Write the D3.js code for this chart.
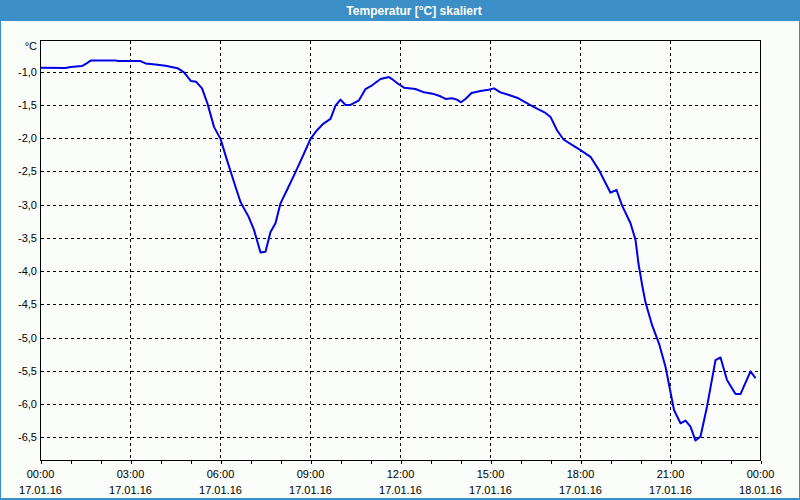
<html>
  <head>
    <meta charset="utf-8">
    <title>Temperatur [°C] skaliert</title>
    <style>
      body {
        margin: 0;
        background: #3c8fc6;
      }
      svg text {
        font-family: "Liberation Sans", Arial, sans-serif;
        font-size: 11px;
        fill: #000;
      }
      .grid line {
        stroke: #000;
        stroke-dasharray: 3,3;
        shape-rendering: crispEdges;
      }
    </style>
    <script src="https://d3js.org/d3.v7.min.js"></script>
  </head>
  <body>
    <svg id="chart"></svg>
    <script>
      let times = [
        '00:00', '00:50', '01:00', '01:23', '01:33', '01:41', '02:30', '02:36', '03:20', '03:30',
        '03:50', '04:10', '04:34', '04:47', '05:01', '05:11', '05:23', '05:34', '05:47', '06:00',
        '06:13', '06:30', '06:40', '06:56', '07:07', '07:20', '07:30', '07:40', '07:50', '08:00',
        '08:13', '08:30', '08:47', '09:00', '09:13', '09:26', '09:40', '09:50', '10:00', '10:10',
        '10:20', '10:37', '10:50', '11:04', '11:20', '11:37', '11:43', '11:53', '12:07', '12:30',
        '12:47', '13:04', '13:20', '13:30', '13:43', '13:53', '14:01', '14:10', '14:22', '14:40',
        '14:56', '15:07', '15:20', '15:37', '15:56', '16:17', '16:34', '16:50', '17:00', '17:13',
        '17:26', '17:47', '18:00', '18:20', '18:37', '19:00', '19:12', '19:23', '19:40', '19:50',
        '19:56', '20:04', '20:10', '20:23', '20:37', '20:50', '21:07', '21:20', '21:30', '21:40',
        '21:50', '22:00', '22:13', '22:30', '22:40', '22:53', '23:10', '23:20', '23:40', '23:50'
      ];
      let temps = [
        -0.94, -0.945, -0.93, -0.915, -0.87, -0.83, -0.83, -0.84, -0.84, -0.875,
        -0.89, -0.91, -0.946, -1.01, -1.14, -1.15, -1.25, -1.48, -1.83, -2.01,
        -2.33, -2.73, -2.96, -3.18, -3.38, -3.72, -3.71, -3.41, -3.28, -2.98,
        -2.78, -2.51, -2.23, -2.01, -1.88, -1.78, -1.71, -1.51, -1.42, -1.50,
        -1.50, -1.43, -1.26, -1.20, -1.11, -1.08, -1.11, -1.17, -1.24, -1.26,
        -1.31, -1.33, -1.37, -1.41, -1.40, -1.42, -1.46, -1.41, -1.32, -1.29,
        -1.27, -1.25, -1.31, -1.35, -1.40, -1.49, -1.56, -1.62, -1.68, -1.88,
        -2.02, -2.12, -2.18, -2.28, -2.48, -2.82, -2.78, -3.01, -3.28, -3.53,
        -3.89, -4.24, -4.47, -4.81, -5.09, -5.44, -6.09, -6.29, -6.25, -6.34,
        -6.55, -6.49, -6.04, -5.34, -5.30, -5.64, -5.85, -5.85, -5.51, -5.61
      ];
      let yTicks = [-1, -1.5, -2, -2.5, -3, -3.5, -4, -4.5, -5, -5.5, -6, -6.5];
      let dayStart = '2016-01-17 00:00';
      let dayEnd = '2016-01-18 00:00';
      let title = 'Temperatur [°C] skaliert';
      let unit = '°C';

      let width = 800;
      let height = 500;
      let titleHeight = 21;
      let plotLeft = 40.5;
      let plotRight = 760.5;
      let plotTop = 40.5;
      let plotBottom = 460.5;

      let parseTime = d3.timeParse('%Y-%m-%d %H:%M');
      let data = times.map((t, i) => ({ date: parseTime('2016-01-17 ' + t), value: temps[i] }));

      let svg = d3.select('#chart')
        .attr('width', width)
        .attr('height', height)
        .style('display', 'block');

      // window frame: blue title bar and thin blue border around a pale panel
      svg.append('rect')
        .attr('width', width).attr('height', height)
        .attr('fill', '#3c8fc6');
      svg.append('rect')
        .attr('x', 1).attr('y', titleHeight)
        .attr('width', width - 2).attr('height', height - titleHeight - 2)
        .attr('fill', '#fafdfa');
      svg.append('text')
        .attr('x', 414).attr('y', 14.5)
        .attr('text-anchor', 'middle')
        .style('font-weight', 'bold')
        .style('font-size', '12px')
        .style('fill', '#fff')
        .text(title);

      let x = d3.scaleTime()
        .domain([parseTime(dayStart), parseTime(dayEnd)])
        .range([plotLeft, plotRight]);
      let y = d3.scaleLinear()
        .domain([-6.85, -0.53])
        .range([plotBottom, plotTop]);

      // horizontal grid, one dashed line per y tick
      svg.append('g')
        .attr('class', 'grid')
        .selectAll('line')
        .data(yTicks)
        .join('line')
        .attr('x1', plotLeft).attr('x2', plotRight)
        .attr('y1', d => Math.round(y(d)) + 0.5)
        .attr('y2', d => Math.round(y(d)) + 0.5);

      // vertical grid every 3 hours (inner ones only)
      let majorTicks = x.ticks(d3.timeHour.every(3));
      svg.append('g')
        .attr('class', 'grid')
        .selectAll('line')
        .data(majorTicks.slice(1, -1))
        .join('line')
        .attr('x1', d => x(d)).attr('x2', d => x(d))
        .attr('y1', plotTop).attr('y2', plotBottom);

      // y labels
      svg.append('g')
        .selectAll('text')
        .data(yTicks)
        .join('text')
        .attr('x', 37)
        .attr('y', d => y(d) + 4)
        .attr('text-anchor', 'end')
        .text(d => d.toFixed(1).replace('.', ','));
      svg.append('text')
        .attr('x', 37).attr('y', 50)
        .attr('text-anchor', 'end')
        .text(unit);

      // hourly tick marks under the x axis
      svg.append('g')
        .attr('transform', `translate(0,${plotBottom})`)
        .call(d3.axisBottom(x).ticks(d3.timeHour.every(1)).tickSize(3).tickFormat(''))
        .call(g => g.select('.domain').remove())
        .call(g => g.selectAll('line').attr('stroke', '#000').style('shape-rendering', 'crispEdges'));

      // x labels: time on top, date below
      let labels = svg.append('g')
        .selectAll('text')
        .data(majorTicks)
        .join('text')
        .attr('text-anchor', 'middle')
        .attr('x', d => x(d));
      labels.append('tspan')
        .attr('x', d => x(d)).attr('y', 478)
        .text(d3.timeFormat('%H:%M'));
      labels.append('tspan')
        .attr('x', d => x(d)).attr('y', 494)
        .text(d3.timeFormat('%d.%m.%y'));

      // plot frame
      svg.append('rect')
        .attr('x', plotLeft).attr('y', plotTop)
        .attr('width', plotRight - plotLeft).attr('height', plotBottom - plotTop)
        .attr('fill', 'none')
        .attr('stroke', '#000')
        .style('shape-rendering', 'crispEdges');

      // the temperature curve
      let line = d3.line()
        .x(d => x(d.date))
        .y(d => y(d.value));
      svg.append('path')
        .datum(data)
        .attr('d', line)
        .attr('fill', 'none')
        .attr('stroke', '#0000e6')
        .attr('stroke-width', 2)
        .attr('stroke-linejoin', 'round');
    </script>
  </body>
</html>
